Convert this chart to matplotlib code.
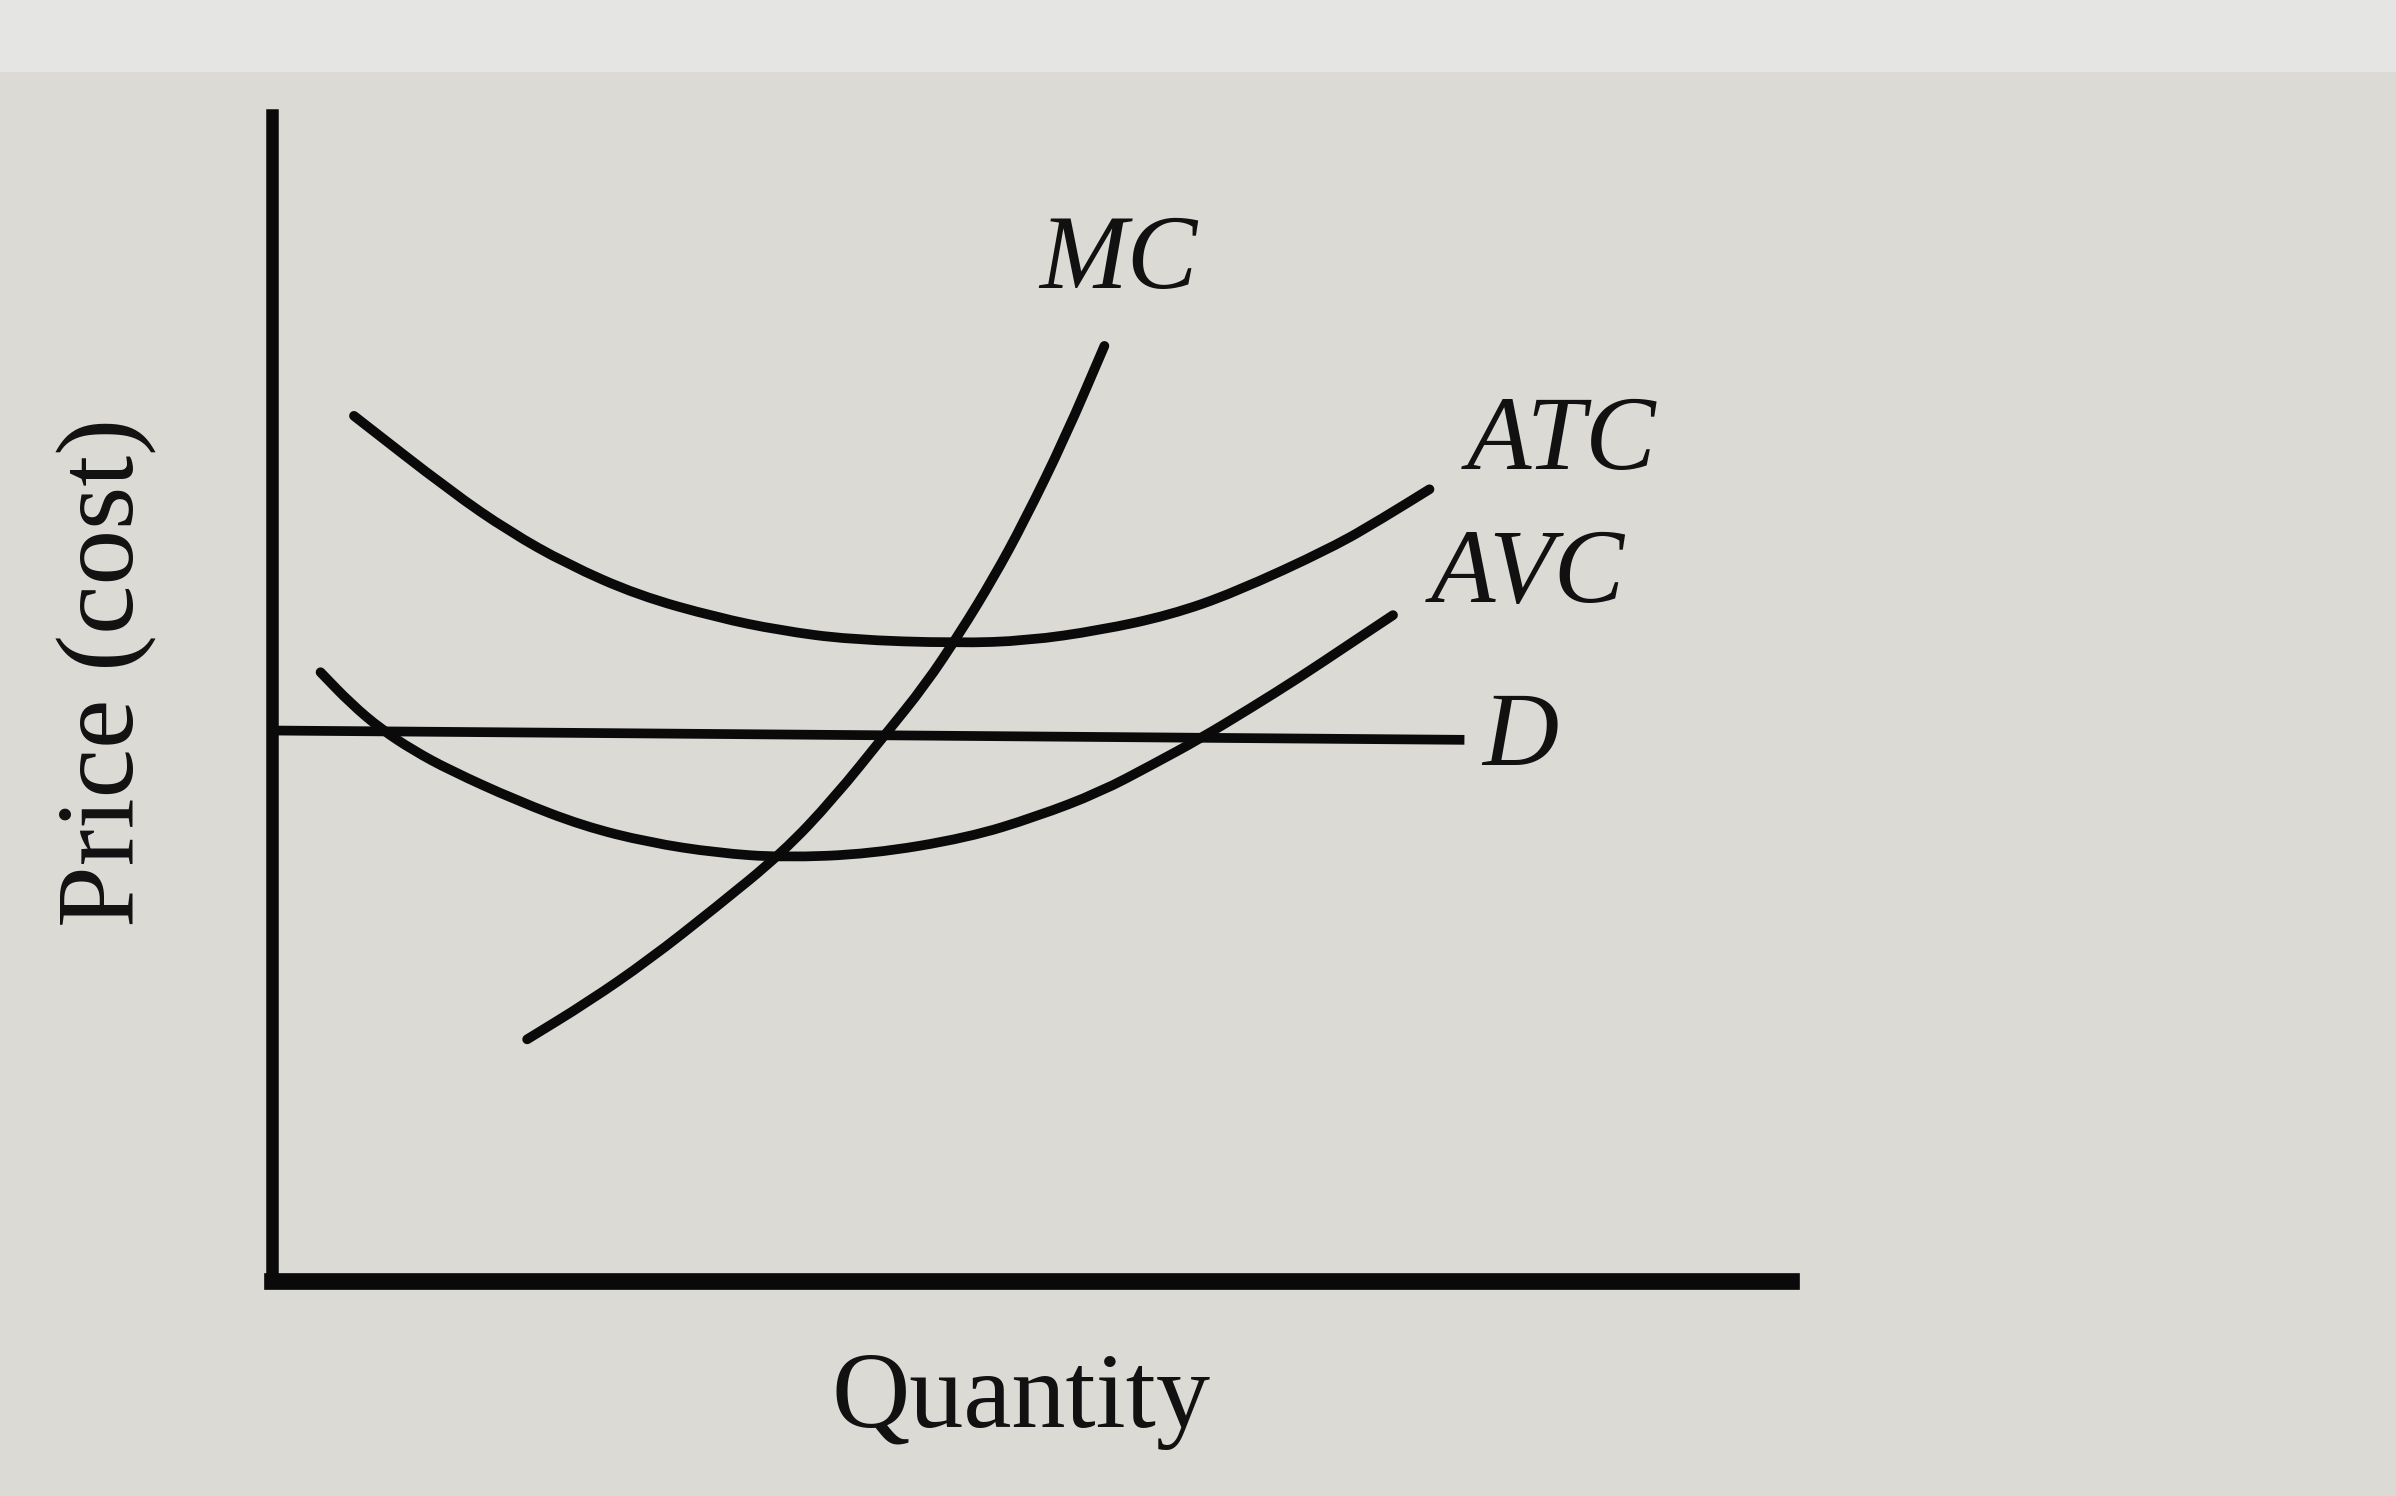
import matplotlib
matplotlib.use("Agg")
import matplotlib.pyplot as plt
from matplotlib.patches import Rectangle, PathPatch
from matplotlib.path import Path

# curve points (quantity, price), axis units 0..10
mc_q = [1.68, 2.08, 2.48, 2.92, 3.36, 3.70, 4.04, 4.30, 4.53, 4.75, 4.95, 5.22, 5.48]
mc_p = [2.07, 2.39, 2.75, 3.20, 3.67, 4.14, 4.69, 5.11, 5.56, 6.03, 6.51, 7.23, 8.02]

atc_q = [0.54, 1.18, 1.56, 1.94, 2.41, 2.93, 3.34, 3.80, 4.51, 4.97, 5.45, 5.91,
         6.33, 6.98, 7.31, 7.62]
atc_p = [7.42, 6.77, 6.43, 6.15, 5.88, 5.69, 5.58, 5.50, 5.47, 5.49, 5.58, 5.71,
         5.90, 6.29, 6.54, 6.79]

avc_q = [0.32, 0.52, 0.72, 0.93, 1.17, 1.61, 2.05, 2.48, 2.93, 3.36, 3.94, 4.58,
         5.03, 5.45, 5.80, 6.11, 6.44, 6.77, 7.08, 7.38]
avc_p = [5.22, 4.95, 4.73, 4.55, 4.38, 4.12, 3.90, 3.76, 3.67, 3.63, 3.66, 3.80,
         3.98, 4.19, 4.43, 4.65, 4.91, 5.18, 5.45, 5.71]

d_q = [0.0, 7.85]
d_p = [4.72, 4.64]

curve_labels = ["MC", "ATC", "AVC", "D"]
label_q = [5.57, 8.49, 8.27, 8.22]
label_p = [8.73, 7.18, 6.04, 4.64]

serif = ["Liberation Serif", "DejaVu Serif"]


def smooth_path(q, p):
    """quadratic bezier through the midpoints, read points used as control points"""
    pts = list(zip(q, p))
    verts = [pts[0]]
    codes = [Path.MOVETO]
    mid = lambda a, b: ((a[0] + b[0]) / 2, (a[1] + b[1]) / 2)
    verts.append(mid(pts[0], pts[1]))
    codes.append(Path.LINETO)
    for i in range(1, len(pts) - 1):
        verts += [pts[i], mid(pts[i], pts[i + 1])]
        codes += [Path.CURVE3, Path.CURVE3]
    verts.append(pts[-1])
    codes.append(Path.LINETO)
    return Path(verts, codes)


fig = plt.figure(figsize=(23.96, 14.96), dpi=100)
fig.patch.set_facecolor("#dcdad5")
# lighter strip at the top of the photo
fig.patches.append(Rectangle((0, 0.952), 1, 0.048, transform=fig.transFigure,
                             facecolor="#e5e5e3", edgecolor="none", zorder=0))

ax = fig.add_axes([0.1135, 0.144, 0.634, 0.779])
ax.set_facecolor("none")
ax.set_xlim(0, 10)
ax.set_ylim(0, 10)

lw = 7
for q, p in [(mc_q, mc_p), (atc_q, atc_p), (avc_q, avc_p)]:
    patch = PathPatch(smooth_path(q, p), fill=False, edgecolor="#0a0a0a", lw=lw,
                      capstyle="round", joinstyle="round")
    ax.add_patch(patch)
ax.plot(d_q, d_p, color="#0a0a0a", lw=lw, solid_capstyle="butt")

for name, q, p in zip(curve_labels, label_q, label_p):
    ax.text(q, p, name, fontsize=76, fontstyle="italic", family=serif,
            ha="center", va="center", color="#111111")

for side in ["top", "right"]:
    ax.spines[side].set_visible(False)
ax.spines["left"].set_linewidth(9)
ax.spines["bottom"].set_linewidth(12)
ax.spines["left"].set_color("#0a0a0a")
ax.spines["bottom"].set_color("#0a0a0a")
ax.spines["left"].set_capstyle("projecting")
ax.spines["bottom"].set_capstyle("projecting")
ax.set_xticks([])
ax.set_yticks([])

fig.text(0.0446, 0.5506, "Price (cost)", rotation=90, fontsize=80, family=serif,
         ha="center", va="center", color="#111111")
fig.text(0.426, 0.0633, "Quantity", fontsize=78, family=serif,
         ha="center", va="center", color="#111111")

fig.savefig("out.png", dpi=100, facecolor=fig.get_facecolor())
